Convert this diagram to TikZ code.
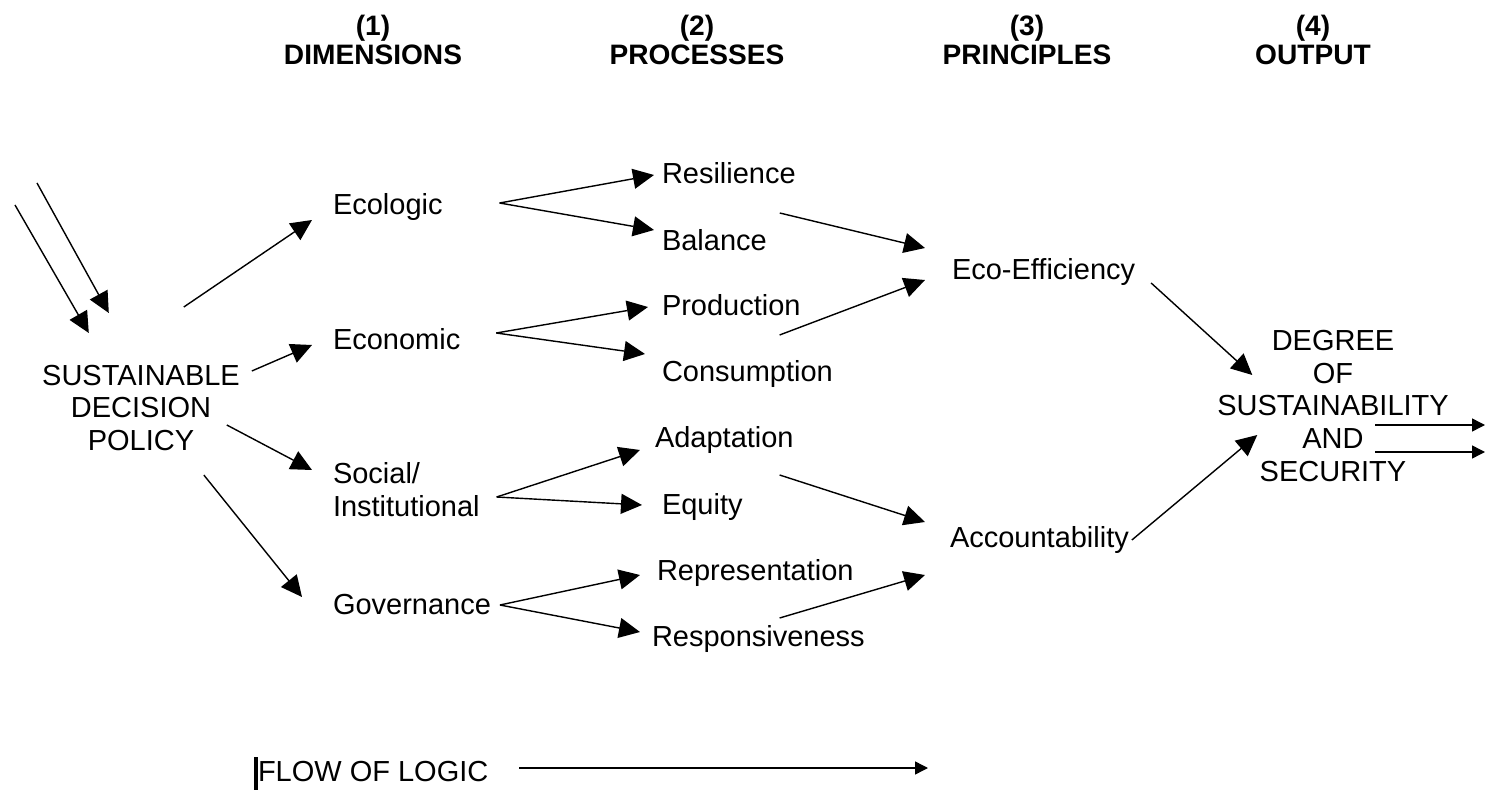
\documentclass[tikz,border=0pt]{standalone}
\usepackage{fontspec}
\setmainfont{Liberation Sans}
\usetikzlibrary{arrows.meta}
\tikzset{
  lbl/.style={font=\fontsize{16.5}{18.7}\selectfont, inner sep=0pt, outer sep=0pt, align=center},
  hdr/.style={font=\bfseries\fontsize{16}{17}\selectfont, inner sep=0pt, align=center},
  arr/.style={-{Triangle[length=0.42cm,width=0.4cm]}, line width=0.8pt},
  sarr/.style={-{Triangle[length=0.26cm,width=0.26cm]}, line width=0.8pt},
}
\begin{document}
\begin{tikzpicture}[x=0.02cm,y=-0.02cm]
  \useasboundingbox (0,0) rectangle (1488,790);
  % column heads
  \node[hdr] (h1) at (373,40) {(1)\\DIMENSIONS};
  \node[hdr] (h2) at (697,40) {(2)\\PROCESSES};
  \node[hdr] (h3) at (1027,40) {(3)\\PRINCIPLES};
  \node[hdr] (h4) at (1313,40) {(4)\\OUTPUT};
  % source
  \node[lbl] (sdp) at (141,408) {SUSTAINABLE\\DECISION\\POLICY};
  \coordinate (in1) at (37,183);
  \coordinate (in2) at (15,205);
  \draw[arr] (in1) -- ([shift={(-131,-95)}]sdp.east);
  \draw[arr] (in2) -- ([shift={(-151,-75)}]sdp.east);
  % dimensions
  \node[lbl,anchor=west] (eco) at (333,207) {Ecologic};
  \node[lbl,anchor=west] (econ) at (333,339) {Economic};
  \node[lbl,anchor=west,align=left] (soc) at (333,490) {Social/\\Institutional};
  \node[lbl,anchor=west] (gov) at (333,605) {Governance};
  \draw[arr] ([shift={(-56,-101)}]sdp.east) -- ([shift={(-21,13)}]eco.west);
  \draw[arr] ([shift={(12,-37)}]sdp.east) -- ([shift={(-21,6)}]econ.west);
  \draw[arr] ([shift={(-13,17)}]sdp.east) -- ([shift={(-21,-20)}]soc.west);
  \draw[arr] ([shift={(-36,67)}]sdp.east) -- ([shift={(-31,-8)}]gov.west);
  % processes
  \node[lbl,anchor=west] (res) at (662,173) {Resilience};
  \node[lbl,anchor=west] (bal) at (662,240) {Balance};
  \node[lbl,anchor=west] (prod) at (662,305) {Production};
  \node[lbl,anchor=west] (cons) at (662,374) {Consumption};
  \node[lbl,anchor=west] (adap) at (655,440) {Adaptation};
  \node[lbl,anchor=west] (equ) at (662,507) {Equity};
  \node[lbl,anchor=west] (rep) at (657,573) {Representation};
  \node[lbl,anchor=west] (resp) at (652,639) {Responsiveness};
  \draw[arr] ([shift={(57,-4)}]eco.east) -- ([shift={(-8,2)}]res.west);
  \draw[arr] ([shift={(57,-4)}]eco.east) -- ([shift={(-8,-10)}]bal.west);
  \draw[arr] ([shift={(36,-6)}]econ.east) -- ([shift={(-14,2)}]prod.west);
  \draw[arr] ([shift={(36,-6)}]econ.east) -- ([shift={(-17,-20)}]cons.west);
  \draw[arr] ([shift={(17,7)}]soc.east) -- ([shift={(-15,10)}]adap.west);
  \draw[arr] ([shift={(17,7)}]soc.east) -- ([shift={(-20,-2)}]equ.west);
  \draw[arr] ([shift={(9,0)}]gov.east) -- ([shift={(-17,2)}]rep.west);
  \draw[arr] ([shift={(9,0)}]gov.east) -- ([shift={(-12,-7)}]resp.west);
  % principles
  \node[lbl,anchor=west] (effic) at (952,272) {Eco-Efficiency};
  \node[lbl,anchor=west] (acc) at (950,540) {Accountability};
  \draw[arr] ([shift={(13,-27)}]bal.east) -- ([shift={(-27,-24)}]effic.west);
  \draw[arr] ([shift={(-21,30)}]prod.east) -- ([shift={(-27,8)}]effic.west);
  \draw[arr] ([shift={(-14,35)}]adap.east) -- ([shift={(-25,-18)}]acc.west);
  \draw[arr] ([shift={(-74,45)}]rep.east) -- ([shift={(-25,35)}]acc.west);
  % output
  \node[lbl] (out) at (1333,406) {DEGREE\\OF\\SUSTAINABILITY\\AND\\SECURITY};
  \draw[arr] ([shift={(16,11)}]effic.east) -- ([shift={(35,-31)}]out.west);
  \draw[arr] ([shift={(3,0)}]acc.east) -- ([shift={(40,29)}]out.west);
  \coordinate (o1) at (1485,425);
  \coordinate (o2) at (1485,452);
  \draw[sarr] ([shift={(42,19)}]out.center) -- (o1);
  \draw[sarr] ([shift={(42,46)}]out.center) -- (o2);
  % flow of logic
  \node[lbl,anchor=west] (flow) at (258,772) {FLOW OF LOGIC};
  \coordinate (fend) at (928,768);
  \draw[line width=2pt] ([shift={(-2,-15)}]flow.west) -- ([shift={(-2,18)}]flow.west);
  \draw[sarr] ([shift={(31,-4)}]flow.east) -- (fend);
\end{tikzpicture}
\end{document}
